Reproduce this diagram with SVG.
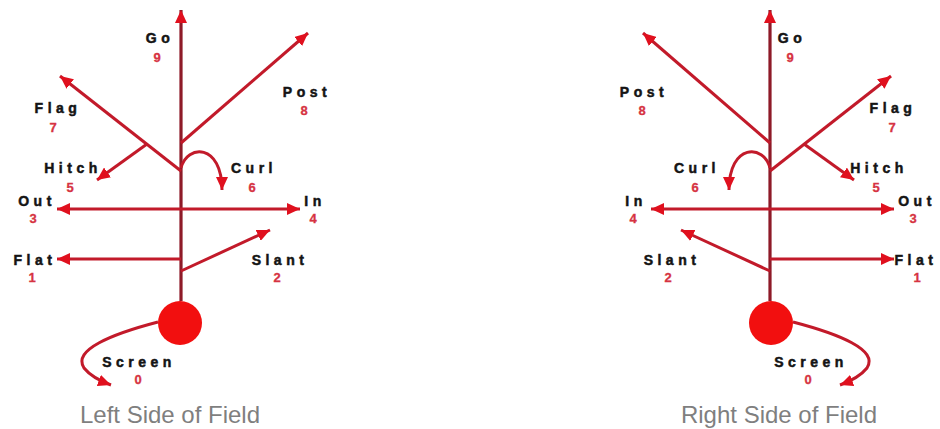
<svg xmlns="http://www.w3.org/2000/svg" width="940" height="429" viewBox="0 0 940 429">
<defs>
<marker id="ah" markerUnits="userSpaceOnUse" markerWidth="14" markerHeight="12" refX="13" refY="6" orient="auto-start-reverse">
<path d="M0,0 L13,6 L0,12 z" fill="#e0101e"/>
</marker>
<style>
.r{fill:none;stroke:#c21a2a;stroke-width:3;marker-end:url(#ah)}
.stem{fill:none;stroke:#8e1a28;stroke-width:3.2;marker-end:url(#ah)}
.both{marker-start:url(#ah)}
.lb{font-family:"Liberation Sans",Arial,sans-serif;font-weight:bold;font-size:14px;letter-spacing:4.5px;fill:#141414;stroke:#141414;stroke-width:0.5;text-anchor:middle}
.nm{font-family:"Liberation Sans",Arial,sans-serif;font-weight:bold;font-size:13px;fill:#d63342;stroke:#d63342;stroke-width:0.3;text-anchor:middle}
.tt{font-family:"Liberation Sans",Arial,sans-serif;font-size:24px;fill:#7f7f7f;text-anchor:middle}
.ball{fill:#f20f0f}
</style>
</defs>
<rect width="940" height="429" fill="#ffffff"/>

<g id="connectors">
<g id="left-routes">
<path class="stem" d="M181,301 L181,10"/>
<path class="r" d="M181,143 L308,33"/>
<path class="r" d="M181,171 L60,76"/>
<path class="r" d="M147,144 L97,180"/>
<path class="r" d="M181,168 C187,144 222,143 222,190"/>
<path class="r both" d="M57,209 L300,209"/>
<path class="r" d="M181,259 L57,259"/>
<path class="r" d="M181,271 L270,230"/>
<path class="r" d="M158,322 C112,334 72,350 84,368 Q92,378 111,385"/>
</g>
<g id="right-routes">
<path class="stem" d="M770,301 L770,10"/>
<path class="r" d="M770,143 L643,33"/>
<path class="r" d="M770,171 L891,76"/>
<path class="r" d="M804,144 L854,180"/>
<path class="r" d="M770,168 C764,144 729,143 729,190"/>
<path class="r both" d="M651,209 L894,209"/>
<path class="r" d="M770,259 L894,259"/>
<path class="r" d="M770,271 L681,230"/>
<path class="r" d="M793,322 C839,334 879,350 867,368 Q859,378 840,385"/>
</g>
</g>

<g id="left-player"><circle class="ball" cx="180" cy="323" r="22"/></g>
<g id="right-player"><circle class="ball" cx="771" cy="323" r="22"/></g>

<g id="left-go"><text class="lb" x="160" y="43">Go</text><text class="nm" x="157" y="62">9</text></g>
<g id="left-post"><text class="lb" x="307" y="97">Post</text><text class="nm" x="304" y="115">8</text></g>
<g id="left-flag"><text class="lb" x="58" y="113">Flag</text><text class="nm" x="53" y="132">7</text></g>
<g id="left-hitch"><text class="lb" x="73" y="173">Hitch</text><text class="nm" x="70" y="192">5</text></g>
<g id="left-curl"><text class="lb" x="254" y="173">Curl</text><text class="nm" x="252" y="192">6</text></g>
<g id="left-out"><text class="lb" x="37" y="206">Out</text><text class="nm" x="33" y="223">3</text></g>
<g id="left-in"><text class="lb" x="315" y="206">In</text><text class="nm" x="313" y="223">4</text></g>
<g id="left-flat"><text class="lb" x="35" y="265">Flat</text><text class="nm" x="32" y="282">1</text></g>
<g id="left-slant"><text class="lb" x="280" y="265">Slant</text><text class="nm" x="277" y="282">2</text></g>
<g id="left-screen"><text class="lb" x="139" y="367">Screen</text><text class="nm" x="138" y="384">0</text></g>
<g id="left-title"><text class="tt" x="170" y="423">Left Side of Field</text></g>

<g id="right-go"><text class="lb" x="792" y="43">Go</text><text class="nm" x="790" y="62">9</text></g>
<g id="right-post"><text class="lb" x="644" y="97">Post</text><text class="nm" x="642" y="115">8</text></g>
<g id="right-flag"><text class="lb" x="893" y="113">Flag</text><text class="nm" x="892" y="132">7</text></g>
<g id="right-hitch"><text class="lb" x="879" y="173">Hitch</text><text class="nm" x="876" y="192">5</text></g>
<g id="right-curl"><text class="lb" x="697" y="173">Curl</text><text class="nm" x="695" y="192">6</text></g>
<g id="right-in"><text class="lb" x="636" y="206">In</text><text class="nm" x="633" y="223">4</text></g>
<g id="right-out"><text class="lb" x="917" y="206">Out</text><text class="nm" x="913" y="223">3</text></g>
<g id="right-slant"><text class="lb" x="672" y="265">Slant</text><text class="nm" x="668" y="282">2</text></g>
<g id="right-flat"><text class="lb" x="916" y="265">Flat</text><text class="nm" x="917" y="282">1</text></g>
<g id="right-screen"><text class="lb" x="811" y="367">Screen</text><text class="nm" x="808" y="384">0</text></g>
<g id="right-title"><text class="tt" x="779" y="423">Right Side of Field</text></g>
</svg>
